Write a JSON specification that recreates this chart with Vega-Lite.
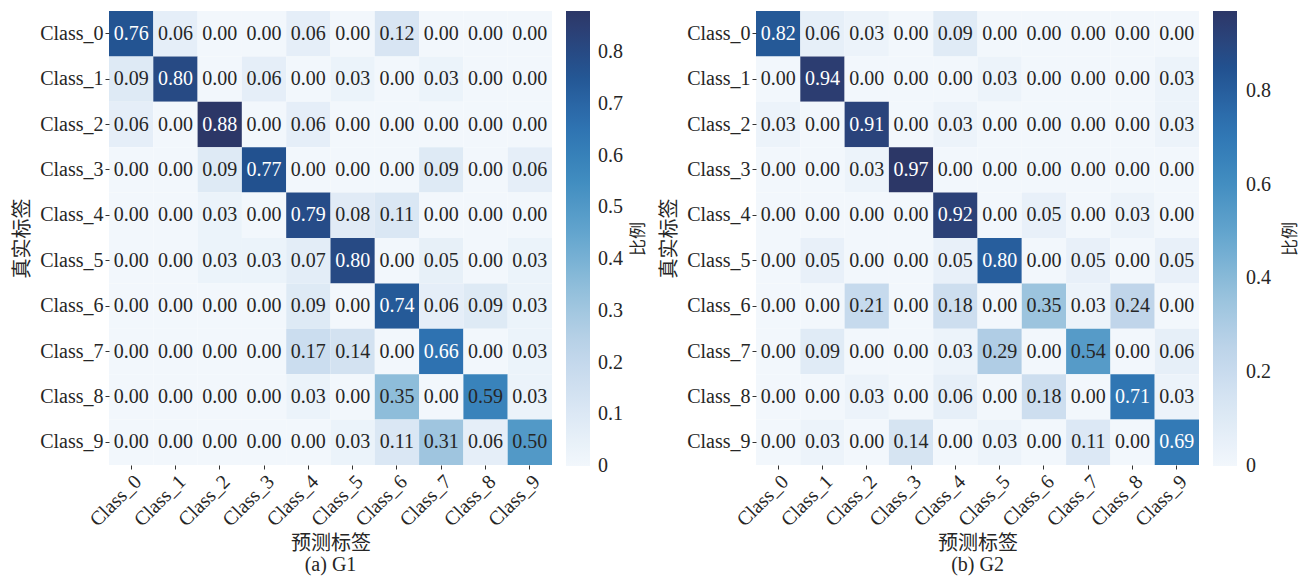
{
  "$schema": "https://vega.github.io/schema/vega-lite/v6.json",
  "padding": {"left": 12, "top": 11, "right": 0, "bottom": 2},
  "background": "white",
  "config": {
    "view": {"stroke": null},
    "font": "Liberation Serif, Noto Sans CJK SC",
    "axis": {
      "labelFont": "Liberation Serif, Noto Sans CJK SC",
      "titleFont": "Liberation Serif, Noto Sans CJK SC",
      "labelFontSize": 20,
      "titleFontSize": 20,
      "titleFontWeight": "normal",
      "labelColor": "#262626",
      "titleColor": "#262626",
      "domain": false,
      "grid": false,
      "tickSize": 4,
      "tickColor": "#333333",
      "labelPadding": 2
    },
    "legend": {
      "labelFont": "Liberation Serif, Noto Sans CJK SC",
      "titleFont": "Liberation Serif, Noto Sans CJK SC"
    },
    "title": {"font": "Liberation Serif, Noto Sans CJK SC", "fontSize": 20, "fontWeight": "normal", "color": "#262626"},
    "concat": {"spacing": 12}
  },
  "resolve": {"scale": {"color": "independent"}, "legend": {"color": "independent"}},
  "datasets": {
    "g1": [
      {"t":"Class_0","p":"Class_0","v":0.76},{"t":"Class_0","p":"Class_1","v":0.06},{"t":"Class_0","p":"Class_2","v":0.00},{"t":"Class_0","p":"Class_3","v":0.00},{"t":"Class_0","p":"Class_4","v":0.06},{"t":"Class_0","p":"Class_5","v":0.00},{"t":"Class_0","p":"Class_6","v":0.12},{"t":"Class_0","p":"Class_7","v":0.00},{"t":"Class_0","p":"Class_8","v":0.00},{"t":"Class_0","p":"Class_9","v":0.00},
      {"t":"Class_1","p":"Class_0","v":0.09},{"t":"Class_1","p":"Class_1","v":0.80},{"t":"Class_1","p":"Class_2","v":0.00},{"t":"Class_1","p":"Class_3","v":0.06},{"t":"Class_1","p":"Class_4","v":0.00},{"t":"Class_1","p":"Class_5","v":0.03},{"t":"Class_1","p":"Class_6","v":0.00},{"t":"Class_1","p":"Class_7","v":0.03},{"t":"Class_1","p":"Class_8","v":0.00},{"t":"Class_1","p":"Class_9","v":0.00},
      {"t":"Class_2","p":"Class_0","v":0.06},{"t":"Class_2","p":"Class_1","v":0.00},{"t":"Class_2","p":"Class_2","v":0.88},{"t":"Class_2","p":"Class_3","v":0.00},{"t":"Class_2","p":"Class_4","v":0.06},{"t":"Class_2","p":"Class_5","v":0.00},{"t":"Class_2","p":"Class_6","v":0.00},{"t":"Class_2","p":"Class_7","v":0.00},{"t":"Class_2","p":"Class_8","v":0.00},{"t":"Class_2","p":"Class_9","v":0.00},
      {"t":"Class_3","p":"Class_0","v":0.00},{"t":"Class_3","p":"Class_1","v":0.00},{"t":"Class_3","p":"Class_2","v":0.09},{"t":"Class_3","p":"Class_3","v":0.77},{"t":"Class_3","p":"Class_4","v":0.00},{"t":"Class_3","p":"Class_5","v":0.00},{"t":"Class_3","p":"Class_6","v":0.00},{"t":"Class_3","p":"Class_7","v":0.09},{"t":"Class_3","p":"Class_8","v":0.00},{"t":"Class_3","p":"Class_9","v":0.06},
      {"t":"Class_4","p":"Class_0","v":0.00},{"t":"Class_4","p":"Class_1","v":0.00},{"t":"Class_4","p":"Class_2","v":0.03},{"t":"Class_4","p":"Class_3","v":0.00},{"t":"Class_4","p":"Class_4","v":0.79},{"t":"Class_4","p":"Class_5","v":0.08},{"t":"Class_4","p":"Class_6","v":0.11},{"t":"Class_4","p":"Class_7","v":0.00},{"t":"Class_4","p":"Class_8","v":0.00},{"t":"Class_4","p":"Class_9","v":0.00},
      {"t":"Class_5","p":"Class_0","v":0.00},{"t":"Class_5","p":"Class_1","v":0.00},{"t":"Class_5","p":"Class_2","v":0.03},{"t":"Class_5","p":"Class_3","v":0.03},{"t":"Class_5","p":"Class_4","v":0.07},{"t":"Class_5","p":"Class_5","v":0.80},{"t":"Class_5","p":"Class_6","v":0.00},{"t":"Class_5","p":"Class_7","v":0.05},{"t":"Class_5","p":"Class_8","v":0.00},{"t":"Class_5","p":"Class_9","v":0.03},
      {"t":"Class_6","p":"Class_0","v":0.00},{"t":"Class_6","p":"Class_1","v":0.00},{"t":"Class_6","p":"Class_2","v":0.00},{"t":"Class_6","p":"Class_3","v":0.00},{"t":"Class_6","p":"Class_4","v":0.09},{"t":"Class_6","p":"Class_5","v":0.00},{"t":"Class_6","p":"Class_6","v":0.74},{"t":"Class_6","p":"Class_7","v":0.06},{"t":"Class_6","p":"Class_8","v":0.09},{"t":"Class_6","p":"Class_9","v":0.03},
      {"t":"Class_7","p":"Class_0","v":0.00},{"t":"Class_7","p":"Class_1","v":0.00},{"t":"Class_7","p":"Class_2","v":0.00},{"t":"Class_7","p":"Class_3","v":0.00},{"t":"Class_7","p":"Class_4","v":0.17},{"t":"Class_7","p":"Class_5","v":0.14},{"t":"Class_7","p":"Class_6","v":0.00},{"t":"Class_7","p":"Class_7","v":0.66},{"t":"Class_7","p":"Class_8","v":0.00},{"t":"Class_7","p":"Class_9","v":0.03},
      {"t":"Class_8","p":"Class_0","v":0.00},{"t":"Class_8","p":"Class_1","v":0.00},{"t":"Class_8","p":"Class_2","v":0.00},{"t":"Class_8","p":"Class_3","v":0.00},{"t":"Class_8","p":"Class_4","v":0.03},{"t":"Class_8","p":"Class_5","v":0.00},{"t":"Class_8","p":"Class_6","v":0.35},{"t":"Class_8","p":"Class_7","v":0.00},{"t":"Class_8","p":"Class_8","v":0.59},{"t":"Class_8","p":"Class_9","v":0.03},
      {"t":"Class_9","p":"Class_0","v":0.00},{"t":"Class_9","p":"Class_1","v":0.00},{"t":"Class_9","p":"Class_2","v":0.00},{"t":"Class_9","p":"Class_3","v":0.00},{"t":"Class_9","p":"Class_4","v":0.00},{"t":"Class_9","p":"Class_5","v":0.03},{"t":"Class_9","p":"Class_6","v":0.11},{"t":"Class_9","p":"Class_7","v":0.31},{"t":"Class_9","p":"Class_8","v":0.06},{"t":"Class_9","p":"Class_9","v":0.50}
    ],
    "g2": [
      {"t":"Class_0","p":"Class_0","v":0.82},{"t":"Class_0","p":"Class_1","v":0.06},{"t":"Class_0","p":"Class_2","v":0.03},{"t":"Class_0","p":"Class_3","v":0.00},{"t":"Class_0","p":"Class_4","v":0.09},{"t":"Class_0","p":"Class_5","v":0.00},{"t":"Class_0","p":"Class_6","v":0.00},{"t":"Class_0","p":"Class_7","v":0.00},{"t":"Class_0","p":"Class_8","v":0.00},{"t":"Class_0","p":"Class_9","v":0.00},
      {"t":"Class_1","p":"Class_0","v":0.00},{"t":"Class_1","p":"Class_1","v":0.94},{"t":"Class_1","p":"Class_2","v":0.00},{"t":"Class_1","p":"Class_3","v":0.00},{"t":"Class_1","p":"Class_4","v":0.00},{"t":"Class_1","p":"Class_5","v":0.03},{"t":"Class_1","p":"Class_6","v":0.00},{"t":"Class_1","p":"Class_7","v":0.00},{"t":"Class_1","p":"Class_8","v":0.00},{"t":"Class_1","p":"Class_9","v":0.03},
      {"t":"Class_2","p":"Class_0","v":0.03},{"t":"Class_2","p":"Class_1","v":0.00},{"t":"Class_2","p":"Class_2","v":0.91},{"t":"Class_2","p":"Class_3","v":0.00},{"t":"Class_2","p":"Class_4","v":0.03},{"t":"Class_2","p":"Class_5","v":0.00},{"t":"Class_2","p":"Class_6","v":0.00},{"t":"Class_2","p":"Class_7","v":0.00},{"t":"Class_2","p":"Class_8","v":0.00},{"t":"Class_2","p":"Class_9","v":0.03},
      {"t":"Class_3","p":"Class_0","v":0.00},{"t":"Class_3","p":"Class_1","v":0.00},{"t":"Class_3","p":"Class_2","v":0.03},{"t":"Class_3","p":"Class_3","v":0.97},{"t":"Class_3","p":"Class_4","v":0.00},{"t":"Class_3","p":"Class_5","v":0.00},{"t":"Class_3","p":"Class_6","v":0.00},{"t":"Class_3","p":"Class_7","v":0.00},{"t":"Class_3","p":"Class_8","v":0.00},{"t":"Class_3","p":"Class_9","v":0.00},
      {"t":"Class_4","p":"Class_0","v":0.00},{"t":"Class_4","p":"Class_1","v":0.00},{"t":"Class_4","p":"Class_2","v":0.00},{"t":"Class_4","p":"Class_3","v":0.00},{"t":"Class_4","p":"Class_4","v":0.92},{"t":"Class_4","p":"Class_5","v":0.00},{"t":"Class_4","p":"Class_6","v":0.05},{"t":"Class_4","p":"Class_7","v":0.00},{"t":"Class_4","p":"Class_8","v":0.03},{"t":"Class_4","p":"Class_9","v":0.00},
      {"t":"Class_5","p":"Class_0","v":0.00},{"t":"Class_5","p":"Class_1","v":0.05},{"t":"Class_5","p":"Class_2","v":0.00},{"t":"Class_5","p":"Class_3","v":0.00},{"t":"Class_5","p":"Class_4","v":0.05},{"t":"Class_5","p":"Class_5","v":0.80},{"t":"Class_5","p":"Class_6","v":0.00},{"t":"Class_5","p":"Class_7","v":0.05},{"t":"Class_5","p":"Class_8","v":0.00},{"t":"Class_5","p":"Class_9","v":0.05},
      {"t":"Class_6","p":"Class_0","v":0.00},{"t":"Class_6","p":"Class_1","v":0.00},{"t":"Class_6","p":"Class_2","v":0.21},{"t":"Class_6","p":"Class_3","v":0.00},{"t":"Class_6","p":"Class_4","v":0.18},{"t":"Class_6","p":"Class_5","v":0.00},{"t":"Class_6","p":"Class_6","v":0.35},{"t":"Class_6","p":"Class_7","v":0.03},{"t":"Class_6","p":"Class_8","v":0.24},{"t":"Class_6","p":"Class_9","v":0.00},
      {"t":"Class_7","p":"Class_0","v":0.00},{"t":"Class_7","p":"Class_1","v":0.09},{"t":"Class_7","p":"Class_2","v":0.00},{"t":"Class_7","p":"Class_3","v":0.00},{"t":"Class_7","p":"Class_4","v":0.03},{"t":"Class_7","p":"Class_5","v":0.29},{"t":"Class_7","p":"Class_6","v":0.00},{"t":"Class_7","p":"Class_7","v":0.54},{"t":"Class_7","p":"Class_8","v":0.00},{"t":"Class_7","p":"Class_9","v":0.06},
      {"t":"Class_8","p":"Class_0","v":0.00},{"t":"Class_8","p":"Class_1","v":0.00},{"t":"Class_8","p":"Class_2","v":0.03},{"t":"Class_8","p":"Class_3","v":0.00},{"t":"Class_8","p":"Class_4","v":0.06},{"t":"Class_8","p":"Class_5","v":0.00},{"t":"Class_8","p":"Class_6","v":0.18},{"t":"Class_8","p":"Class_7","v":0.00},{"t":"Class_8","p":"Class_8","v":0.71},{"t":"Class_8","p":"Class_9","v":0.03},
      {"t":"Class_9","p":"Class_0","v":0.00},{"t":"Class_9","p":"Class_1","v":0.03},{"t":"Class_9","p":"Class_2","v":0.00},{"t":"Class_9","p":"Class_3","v":0.14},{"t":"Class_9","p":"Class_4","v":0.00},{"t":"Class_9","p":"Class_5","v":0.03},{"t":"Class_9","p":"Class_6","v":0.00},{"t":"Class_9","p":"Class_7","v":0.11},{"t":"Class_9","p":"Class_8","v":0.00},{"t":"Class_9","p":"Class_9","v":0.69}
    ]
  },
  "hconcat": [
    {
      "width": 443,
      "height": 454,
      "data": {"name": "g1"},
      "title": {"text": "(a) G1", "orient": "bottom", "offset": 1},
      "encoding": {
        "x": {"field": "p", "type": "nominal", "title": "预测标签", "scale": {"paddingInner": 0, "paddingOuter": 0}, "axis": {"labelAngle": -45, "titlePadding": 4}},
        "y": {"field": "t", "type": "nominal", "title": "真实标签", "scale": {"paddingInner": 0, "paddingOuter": 0}, "axis": {"titlePadding": 7}}
      },
      "layer": [
        {
          "mark": {"type": "rect"},
          "encoding": {
            "color": {
              "field": "v", "type": "quantitative",
              "scale": {"domain": [0, 0.11, 0.22, 0.33, 0.44, 0.55, 0.66, 0.77, 0.88], "range": ["#f2f7fc", "#dae7f4", "#bfd5ea", "#97c2dc", "#66a7cf", "#418dc0", "#2e72b1", "#22518f", "#2c3767"]},
              "legend": {"orient": "right", "direction": "vertical", "title": "比例", "titleOrient": "right", "titleFontSize": 17, "titleFontWeight": "normal", "titleColor": "#262626", "titleAnchor": "middle", "titlePadding": 8, "gradientLength": 455, "gradientThickness": 24, "gradientStrokeWidth": 0, "values": [0, 0.1, 0.2, 0.3, 0.4, 0.5, 0.6, 0.7, 0.8], "format": "~g", "labelFontSize": 20, "labelColor": "#262626", "labelOffset": 8, "labelOverlap": false, "offset": 14, "padding": 0,
                "encode": {"title": {"update": {"angle": {"value": -90}, "baseline": {"value": "top"}}}, "labels": {"update": {"baseline": {"value": "middle"}}}}}
            }
          }
        },
        {
          "mark": {"type": "text", "fontSize": 20, "font": "Liberation Serif"},
          "encoding": {
            "text": {"field": "v", "type": "quantitative", "format": ".2f"},
            "color": {"condition": {"test": "datum.v > 0.62", "value": "#ffffff"}, "value": "#262626"}
          }
        }
      ]
    },
    {
      "width": 443,
      "height": 454,
      "data": {"name": "g2"},
      "title": {"text": "(b) G2", "orient": "bottom", "offset": 1},
      "encoding": {
        "x": {"field": "p", "type": "nominal", "title": "预测标签", "scale": {"paddingInner": 0, "paddingOuter": 0}, "axis": {"labelAngle": -45, "titlePadding": 4}},
        "y": {"field": "t", "type": "nominal", "title": "真实标签", "scale": {"paddingInner": 0, "paddingOuter": 0}, "axis": {"titlePadding": 7}}
      },
      "layer": [
        {
          "mark": {"type": "rect"},
          "encoding": {
            "color": {
              "field": "v", "type": "quantitative",
              "scale": {"domain": [0, 0.12125, 0.2425, 0.36375, 0.485, 0.60625, 0.7275, 0.84875, 0.97], "range": ["#f2f7fc", "#dae7f4", "#bfd5ea", "#97c2dc", "#66a7cf", "#418dc0", "#2e72b1", "#22518f", "#2c3767"]},
              "legend": {"orient": "right", "direction": "vertical", "title": "比例", "titleOrient": "right", "titleFontSize": 17, "titleFontWeight": "normal", "titleColor": "#262626", "titleAnchor": "middle", "titlePadding": 12, "gradientLength": 455, "gradientThickness": 24, "gradientStrokeWidth": 0, "values": [0, 0.2, 0.4, 0.6, 0.8], "format": "~g", "labelFontSize": 20, "labelColor": "#262626", "labelOffset": 9, "labelOverlap": false, "offset": 14, "padding": 0,
                "encode": {"title": {"update": {"angle": {"value": -90}, "baseline": {"value": "top"}}}, "labels": {"update": {"baseline": {"value": "middle"}}}}}
            }
          }
        },
        {
          "mark": {"type": "text", "fontSize": 20, "font": "Liberation Serif"},
          "encoding": {
            "text": {"field": "v", "type": "quantitative", "format": ".2f"},
            "color": {"condition": {"test": "datum.v > 0.62", "value": "#ffffff"}, "value": "#262626"}
          }
        }
      ]
    }
  ]
}
